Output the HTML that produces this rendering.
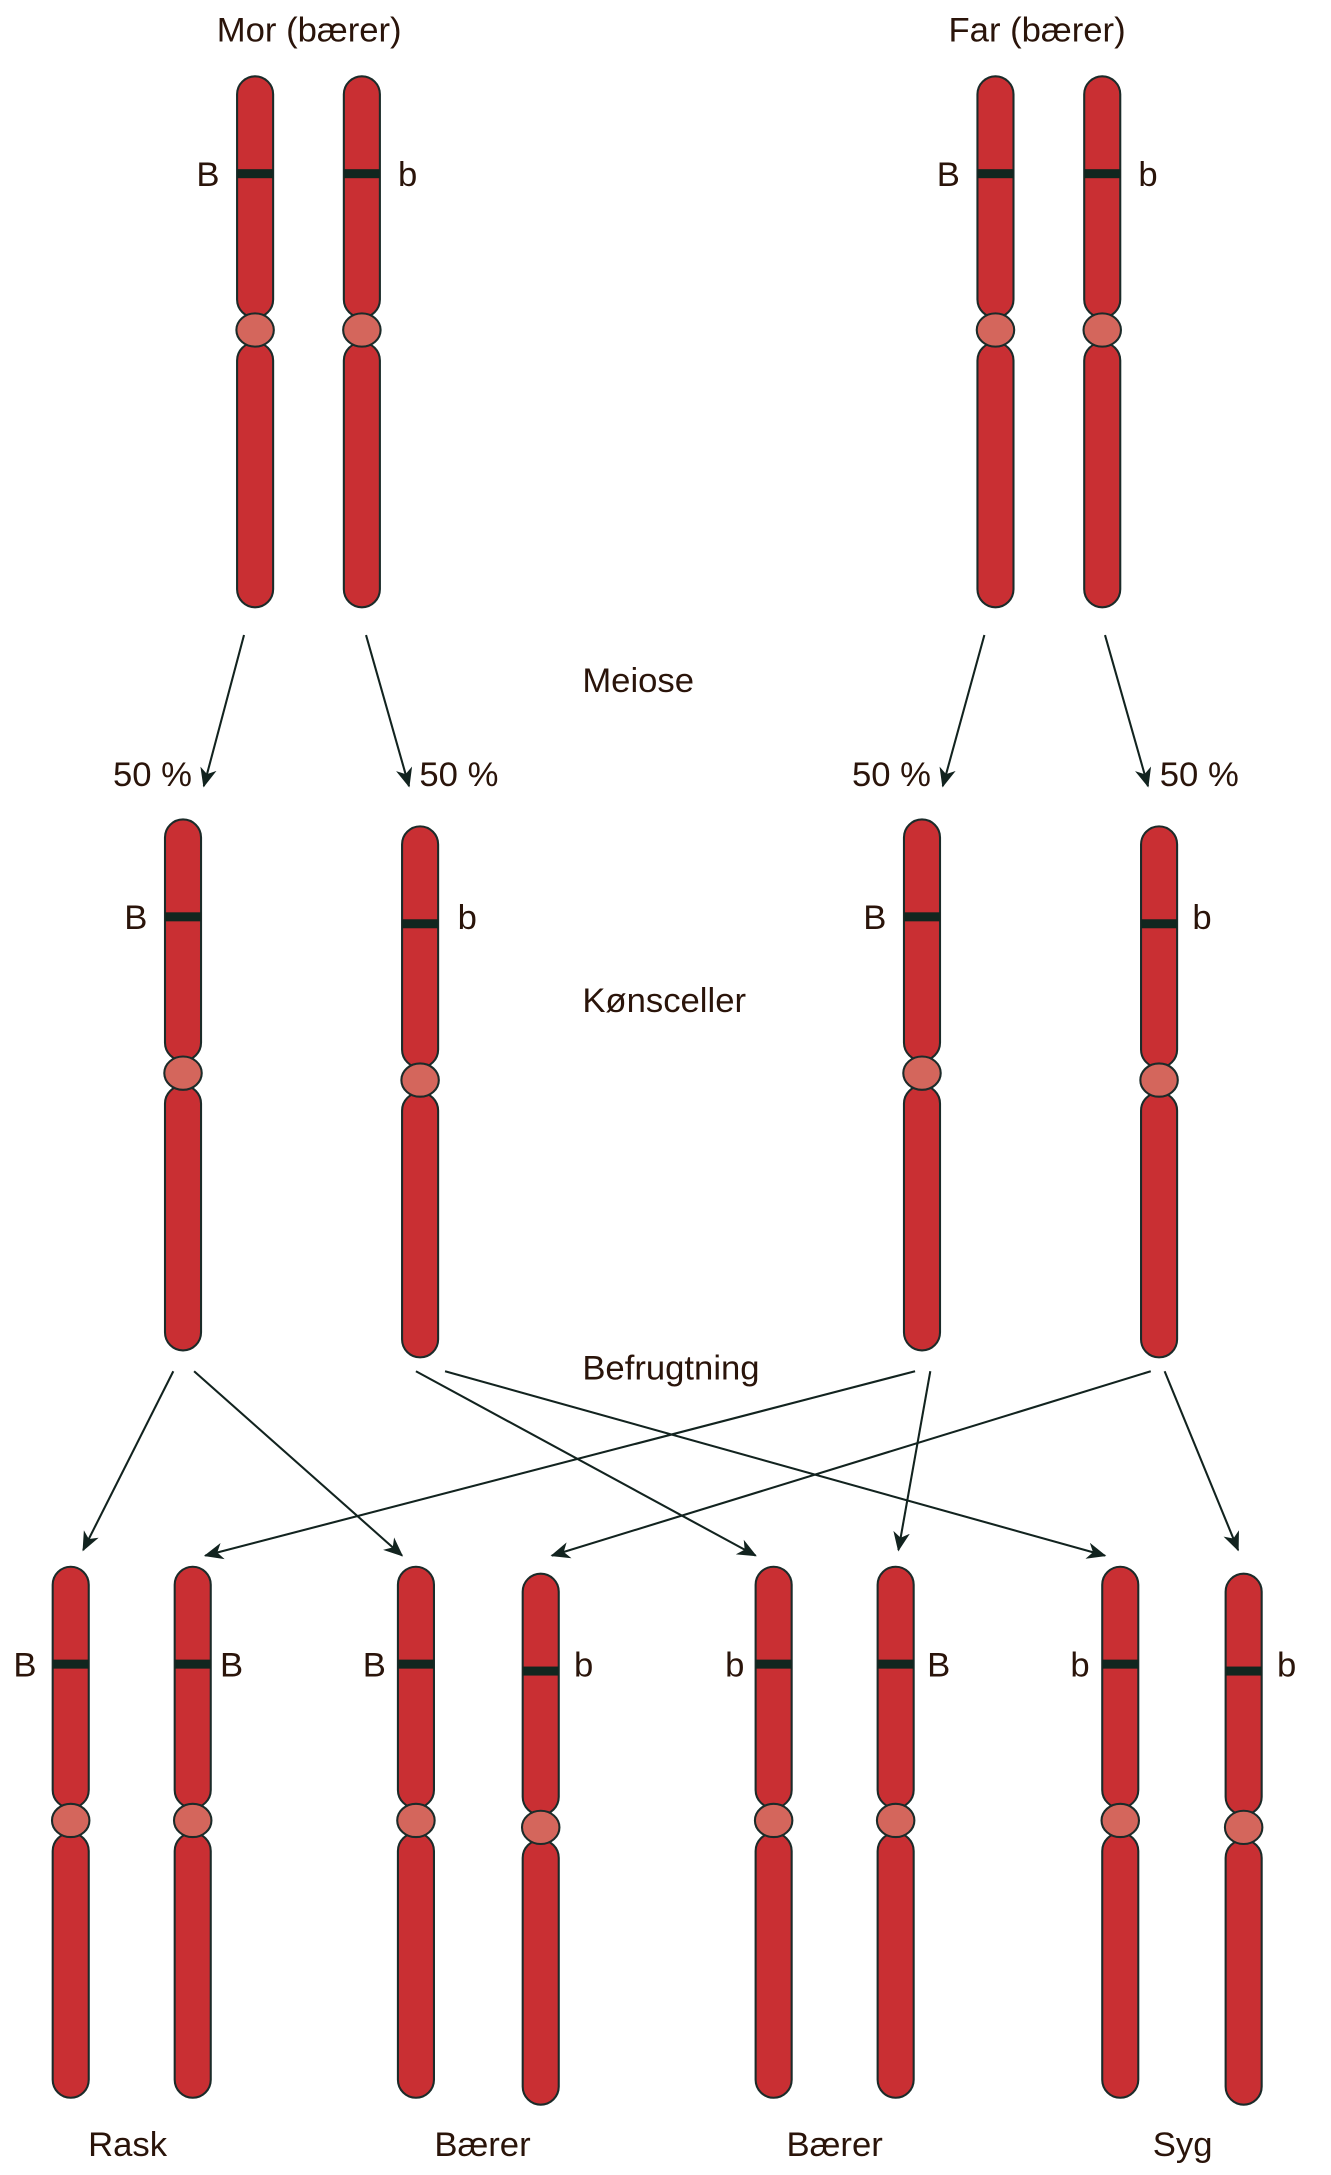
<!DOCTYPE html>
<html><head><meta charset="utf-8"><style>
html,body{margin:0;padding:0;background:#fff;}
svg{display:block;}
text{font-family:"Liberation Sans",sans-serif;font-size:25px;fill:#2a140a;}
</style></head><body>
<svg width="1331" height="2175" viewBox="0 0 960 1568.7" xmlns="http://www.w3.org/2000/svg">
<defs>
<g id="ch">
<rect x="-13" y="0" width="26" height="174" rx="13" fill="#c92f33" stroke="#1b2b29" stroke-width="1.5"/>
<rect x="-13" y="192" width="26" height="191" rx="13" fill="#c92f33" stroke="#1b2b29" stroke-width="1.5"/>
<ellipse cx="0" cy="183" rx="13.5" ry="12" fill="#d4665c" stroke="#1b2b29" stroke-width="1.5"/>
<rect x="-13" y="67" width="26" height="6.5" fill="#12261f"/>
</g>
<marker id="ar" markerWidth="14" markerHeight="12" refX="13" refY="6" orient="auto" markerUnits="userSpaceOnUse">
<path d="M0,0 L14,6 L0,12 L4,6 z" fill="#12231f"/>
</marker>
</defs>

<text x="223" y="30" text-anchor="middle">Mor (bærer)</text>
<text x="748" y="30" text-anchor="middle">Far (bærer)</text>

<use href="#ch" x="184" y="55"/>
<use href="#ch" x="261" y="55"/>
<use href="#ch" x="718" y="55"/>
<use href="#ch" x="795" y="55"/>
<text x="150" y="134" text-anchor="middle">B</text>
<text x="294" y="134" text-anchor="middle">b</text>
<text x="684" y="134" text-anchor="middle">B</text>
<text x="828" y="134" text-anchor="middle">b</text>

<g stroke="#12231f" stroke-width="1.5" fill="none" marker-end="url(#ar)">
<line x1="176" y1="458" x2="147" y2="567"/>
<line x1="264" y1="458" x2="295" y2="567"/>
<line x1="710" y1="458" x2="680" y2="567"/>
<line x1="797" y1="458" x2="828" y2="567"/>
</g>
<text x="420" y="499">Meiose</text>
<text x="110" y="567" text-anchor="middle">50 %</text>
<text x="331" y="567" text-anchor="middle">50 %</text>
<text x="643" y="567" text-anchor="middle">50 %</text>
<text x="865" y="567" text-anchor="middle">50 %</text>

<use href="#ch" x="132" y="591"/>
<use href="#ch" x="303" y="596"/>
<use href="#ch" x="665" y="591"/>
<use href="#ch" x="836" y="596"/>
<text x="98" y="670" text-anchor="middle">B</text>
<text x="337" y="670" text-anchor="middle">b</text>
<text x="631" y="670" text-anchor="middle">B</text>
<text x="867" y="670" text-anchor="middle">b</text>
<text x="420" y="730">Kønsceller</text>
<text x="420" y="995">Befrugtning</text>

<g stroke="#12231f" stroke-width="1.5" fill="none" marker-end="url(#ar)">
<line x1="125" y1="989" x2="60" y2="1118"/>
<line x1="140" y1="989" x2="290" y2="1122"/>
<line x1="660" y1="989" x2="148" y2="1122"/>
<line x1="300" y1="989" x2="545" y2="1122"/>
<line x1="321" y1="989" x2="797" y2="1122"/>
<line x1="671" y1="989" x2="648" y2="1118"/>
<line x1="830" y1="989" x2="398" y2="1122"/>
<line x1="840" y1="989" x2="893" y2="1118"/>
</g>

<use href="#ch" x="51" y="1130"/>
<use href="#ch" x="139" y="1130"/>
<use href="#ch" x="300" y="1130"/>
<use href="#ch" x="390" y="1135"/>
<use href="#ch" x="558" y="1130"/>
<use href="#ch" x="646" y="1130"/>
<use href="#ch" x="808" y="1130"/>
<use href="#ch" x="897" y="1135"/>
<text x="18" y="1209" text-anchor="middle">B</text>
<text x="167" y="1209" text-anchor="middle">B</text>
<text x="270" y="1209" text-anchor="middle">B</text>
<text x="421" y="1209" text-anchor="middle">b</text>
<text x="530" y="1209" text-anchor="middle">b</text>
<text x="677" y="1209" text-anchor="middle">B</text>
<text x="779" y="1209" text-anchor="middle">b</text>
<text x="928" y="1209" text-anchor="middle">b</text>

<text x="92" y="1555" text-anchor="middle">Rask</text>
<text x="348" y="1555" text-anchor="middle">Bærer</text>
<text x="602" y="1555" text-anchor="middle">Bærer</text>
<text x="853" y="1555" text-anchor="middle">Syg</text>
</svg>
</body></html>
